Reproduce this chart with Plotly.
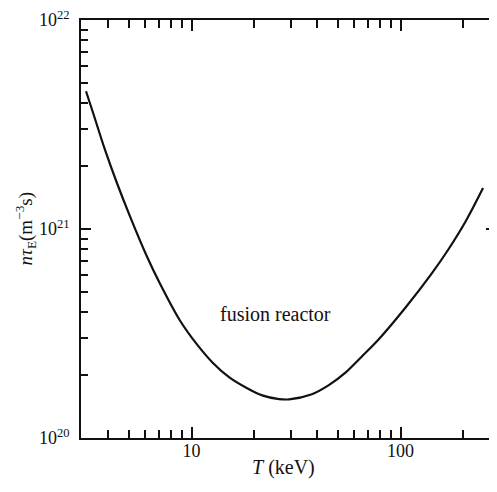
import plotly.graph_objects as go
import numpy as np

# Curve: T (keV) vs n*tau_E (m^-3 s)
T_keV = [3.126, 3.381, 3.855, 4.395, 5.070, 6.109, 7.047, 8.770, 10.57, 12.59, 15.17, 18.28, 21.78,
         26.24, 29.31, 37.67, 45.39, 54.70, 65.16, 78.52, 106.9, 140.6, 169.4, 204.2, 248.3]
n_tau = [4.56e21, 3.59e21, 2.39e21, 1.66e21, 1.153e21, 7.41e20, 5.50e20, 3.67e20, 2.82e20, 2.30e20,
         1.95e20, 1.74e20, 1.60e20, 1.535e20, 1.531e20, 1.62e20, 1.79e20, 2.06e20, 2.45e20, 2.96e20,
         4.27e20, 6.10e20, 7.98e20, 1.08e21, 1.57e21]

x_major = [10, 100]
x_major_text = ["10", "100"]
x_minor = [4, 5, 6, 7, 8, 9, 20, 30, 40, 50, 60, 70, 80, 90, 200]
y_major = [1e20, 1e21, 1e22]
y_major_text = ["10<sup>20</sup>", "10<sup>21</sup>", "10<sup>22</sup>"]
y_minor = [2e20, 3e20, 4e20, 5e20, 6e20, 7e20, 8e20, 9e20, 2e21, 3e21, 4e21, 5e21, 6e21, 7e21, 8e21, 9e21]

label_text = "fusion reactor"
label_T = 25.1
label_y = 3.9e20

serif = "Liberation Serif, Times New Roman, serif"
ink = "#111111"

fig = go.Figure()
fig.add_trace(go.Scatter(x=T_keV, y=n_tau, mode="lines",
                         line=dict(color=ink, width=2.2, shape="spline", smoothing=1.0),
                         showlegend=False, hoverinfo="skip", cliponaxis=False))

fig.add_annotation(x=np.log10(label_T), y=np.log10(label_y), text=label_text, showarrow=False,
                   font=dict(family=serif, size=20, color=ink))

fig.add_annotation(xref="paper", yref="paper", x=0.489, y=-0.071, xanchor="center", yanchor="middle",
                   text="<i>T</i> (keV)", showarrow=False,
                   font=dict(family=serif, size=20, color=ink))
fig.add_annotation(xref="paper", yref="paper", x=-0.134, y=0.5, xanchor="center", yanchor="middle",
                   textangle=-90, text="<i>nτ</i><sub>E</sub>(m<sup>−3</sup>s)",
                   showarrow=False, font=dict(family=serif, size=19, color=ink))

fig.update_xaxes(type="log", range=[0.471, 2.457],
                 tickmode="array", tickvals=x_major, ticktext=x_major_text,
                 ticks="inside", ticklen=11, tickwidth=1.5, tickcolor=ink,
                 showline=True, linecolor=ink, linewidth=1.5, mirror="ticks",
                 showgrid=False, zeroline=False, ticklabelstandoff=-4, ticklabeloverflow="allow",
                 minor=dict(tickmode="array", tickvals=x_minor, ticks="inside", ticklen=8,
                            tickwidth=1.5, tickcolor=ink, showgrid=False),
                 tickfont=dict(family=serif, size=18, color=ink))
fig.update_yaxes(type="log", range=[20, 22],
                 tickmode="array", tickvals=y_major, ticktext=y_major_text,
                 ticks="inside", ticklen=10, tickwidth=1.5, tickcolor=ink,
                 showline=True, linecolor=ink, linewidth=1.5, mirror="ticks",
                 showgrid=False, zeroline=False, ticklabelstandoff=6, ticklabeloverflow="allow",
                 minor=dict(tickmode="array", tickvals=y_minor, ticks="inside", ticklen=7,
                            tickwidth=1.5, tickcolor=ink, showgrid=False),
                 tickfont=dict(family=serif, size=18, color=ink))

# page body has an 8px default margin: compensate so the plot area lands where the reference has it
fig.update_layout(width=490, height=484, margin=dict(l=73, r=0, t=8, b=54),
                  paper_bgcolor="white", plot_bgcolor="white")

fig.write_html("out.html")
